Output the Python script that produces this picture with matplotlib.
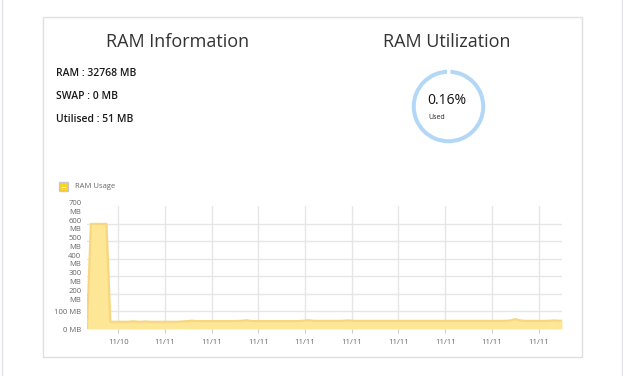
import matplotlib
matplotlib.use("Agg")
import matplotlib.pyplot as plt
from matplotlib.patches import Rectangle
from matplotlib.lines import Line2D

W, H = 623, 376

# ---- data ----
ram_total_mb = 32768
swap_mb = 0
utilised_mb = 51
used_pct = 0.16

ram_usage = [
    0, 598, 598, 598, 598, 598, 42, 41, 41, 41,
    41, 42, 44, 41, 41, 43, 41, 41, 41, 41,
    41, 41, 41, 41, 42, 44, 45, 47, 45, 45,
    45, 45, 45, 45, 45, 45, 45, 45, 45, 46,
    47, 50, 46, 45, 45, 45, 45, 45, 45, 45,
    45, 45, 45, 45, 45, 46, 48, 50, 47, 46,
    46, 46, 46, 46, 46, 46, 47, 49, 47, 46,
    46, 46, 46, 46, 46, 46, 46, 46, 46, 46,
    46, 46, 46, 46, 46, 46, 46, 46, 46, 46,
    46, 46, 46, 46, 46, 46, 46, 46, 46, 46,
    46, 46, 46, 46, 46, 46, 46, 46, 47, 50,
    56, 50, 47, 46, 46, 46, 46, 46, 46, 47,
    49, 47, 47,
]
x_tick_labels = ["11/10", "11/11", "11/11", "11/11", "11/11",
                 "11/11", "11/11", "11/11", "11/11", "11/11"]
y_ticks = [0, 100, 200, 300, 400, 500, 600, 700]
y_tick_labels = ["0 MB", "100 MB", "200\nMB", "300\nMB", "400\nMB",
                 "500\nMB", "600\nMB", "700\nMB"]

FONT = "Open Sans"
plt.rcParams["font.family"] = [FONT, "DejaVu Sans"]

fig = plt.figure(figsize=(W / 100, H / 100), dpi=100)
fig.patch.set_facecolor("white")

def fx(x):
    return x / W

def fy(y):
    return 1 - y / H

# page edge lines
fig.add_artist(Line2D([fx(2.5), fx(2.5)], [0, 1], color="#e2e2ea", lw=1, zorder=-5))
fig.add_artist(Line2D([fx(621.5), fx(621.5)], [0, 1], color="#e2e2ea", lw=1, zorder=-5))
# card border
fig.add_artist(Rectangle((fx(43), fy(357)), fx(582) - fx(43), fy(17) - fy(357),
                         transform=fig.transFigure, facecolor="white",
                         edgecolor="#e0e0e0", lw=1, zorder=-5))

# titles
fig.text(fx(178), fy(42), "RAM Information", ha="center", va="center",
         fontsize=13, color="#333333", fontweight="medium")
fig.text(fx(447), fy(42), "RAM Utilization", ha="center", va="center",
         fontsize=13, color="#333333", fontweight="medium")

info = [f"RAM : {ram_total_mb} MB", f"SWAP : {swap_mb} MB",
        f"Utilised : {utilised_mb} MB"]
for i, t in enumerate(info):
    fig.text(fx(56), fy(74 + i * 22.5), t, ha="left", va="center",
             fontsize=7.5, color="#1a1a1a", fontweight="semibold")

# doughnut
r = 37.5
axd = fig.add_axes([fx(448.5 - r), fy(106.5 + r), 2 * r / W, 2 * r / H])
wedges, _ = axd.pie([used_pct, 100 - used_pct], startangle=90, counterclock=False,
                    colors=["#ffffff", "#b3d8f7"], radius=1,
                    wedgeprops=dict(width=0.11, linewidth=0))
wedges[0].set_edgecolor("white")
wedges[0].set_linewidth(2.2)
wedges[0].set_zorder(5)
axd.set_xlim(-1.02, 1.02)
axd.set_ylim(-1.02, 1.02)
axd.set_aspect("auto")
axd.axis("off")
fig.text(fx(447), fy(100), f"{used_pct}%", ha="center", va="center",
         fontsize=10, color="#111111")
fig.text(fx(428), fy(117.5), "Used", ha="left", va="center",
         fontsize=5, color="#222222")

# legend
fig.add_artist(Rectangle((fx(58.5), fy(191)), 9 / W, 9 / H,
                         transform=fig.transFigure, facecolor="#ffd21f",
                         edgecolor="#c8c8c8", lw=1))
fig.add_artist(Line2D([fx(61.5), fx(64.5)], [fy(186.5), fy(186.5)],
                      color="white", lw=0.8))
fig.text(fx(75), fy(186), "RAM Usage", ha="left", va="center",
         fontsize=5.5, color="#666666")

# line chart
ax = fig.add_axes([fx(87), fy(329), (562 - 87) / W, (329 - 206) / H])
xs = list(range(len(ram_usage)))
ax.fill_between(xs, ram_usage, 0, color="#fde797", lw=0, zorder=2)
ax.plot(xs, ram_usage, color="#f7d67e", lw=1.6, zorder=3)
ax.set_xlim(0, len(ram_usage) - 1)
ax.set_ylim(0, 700)
ax.set_yticks(y_ticks)
ax.set_yticklabels(y_tick_labels, fontsize=5.5, color="#666666",
                   multialignment="right", linespacing=1.35)
step = 12
first = 8
ax.set_xticks([first + step * i for i in range(len(x_tick_labels))])
ax.set_xticklabels(x_tick_labels, fontsize=5.5, color="#666666")
ax.tick_params(axis="y", length=0, pad=4)
ax.tick_params(axis="x", length=3, color="#cccccc", pad=4)
ax.grid(True, color="#e6e6e6", lw=1, zorder=0)
gl = ax.get_ygridlines()
gl[-1].set_visible(False)
for s in ax.spines.values():
    s.set_visible(False)
ax.set_facecolor("none")

fig.savefig("out.png", dpi=100, facecolor="white")
